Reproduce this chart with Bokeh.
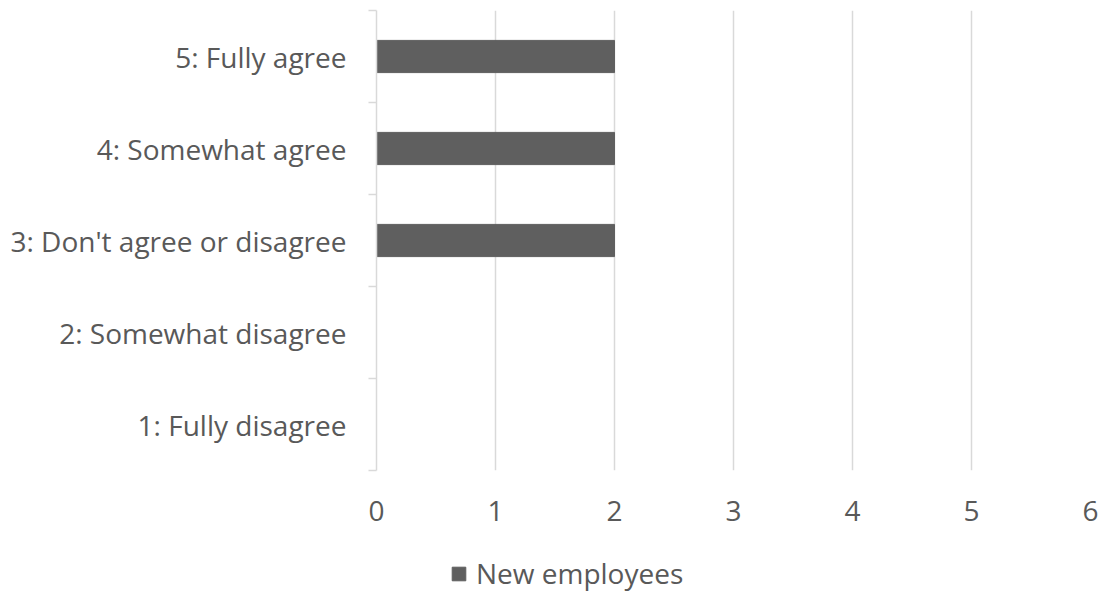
from bokeh.plotting import figure
from bokeh.layouts import column
from bokeh.models import FixedTicker, Legend, LegendItem, ColumnDataSource, Range1d
from bokeh.embed import file_html
from bokeh.resources import INLINE

categories = ["1: Fully disagree", "2: Somewhat disagree", "3: Don't agree or disagree",
              "4: Somewhat agree", "5: Fully agree"]
values = [0, 0, 2, 2, 2]
x_ticks = [0, 1, 2, 3, 4, 5, 6]
series_name = "New employees"

positions = list(range(1, len(categories) + 1))
src = ColumnDataSource(dict(y=positions, v=values))

FONT = "Open Sans"
TXT = "#595959"
FS = "28px"
BAR = "#5f5f5f"

p = figure(frame_width=714, frame_height=460, output_backend="svg", toolbar_location=None,
           x_range=Range1d(0, 6), y_range=Range1d(0.5, 5.5),
           min_border_left=376, min_border_right=12, min_border_top=10, min_border_bottom=70)
p.outline_line_color = None

r = p.hbar(y="y", right="v", left=0, height=0.35, source=src, color=BAR)

p.xaxis.ticker = FixedTicker(ticks=x_ticks)
p.xaxis.axis_line_color = None
p.xaxis.major_tick_line_color = None
p.xaxis.minor_tick_line_color = None
p.xaxis.major_label_text_font = FONT
p.xaxis.major_label_text_font_size = FS
p.xaxis.major_label_text_color = TXT
p.xaxis.major_label_standoff = 24

p.yaxis.ticker = FixedTicker(ticks=positions, minor_ticks=[v - 0.5 for v in positions] + [positions[-1] + 0.5])
p.yaxis.major_label_overrides = {pos: c for pos, c in zip(positions, categories)}
p.yaxis.axis_line_color = "#d9d9d9"
p.yaxis.axis_line_width = 1.5
p.yaxis.major_tick_line_color = None
p.yaxis.minor_tick_line_color = "#d9d9d9"
p.yaxis.minor_tick_line_width = 1.5
p.yaxis.minor_tick_out = 8
p.yaxis.minor_tick_in = 0
p.yaxis.major_label_text_font = FONT
p.yaxis.major_label_text_font_size = FS
p.yaxis.major_label_text_color = TXT
p.yaxis.major_label_standoff = 22

p.xgrid.grid_line_color = "#d9d9d9"
p.xgrid.grid_line_width = 1.5
p.ygrid.grid_line_color = None

# legend strip below the chart (frames are aligned with the chart above)
p2 = figure(width=1102, height=52, output_backend="svg", toolbar_location=None,
            x_axis_location=None, y_axis_location=None,
            x_range=Range1d(100, 101), y_range=Range1d(100, 101), min_border=0)
p2.outline_line_color = None
p2.grid.visible = False
r2 = p2.hbar(y="y", right="v", left=0, height=0.35, source=src, color=BAR)

legend = Legend(items=[LegendItem(label=series_name, renderers=[r2], index=2)],
                location=(74, 0), orientation="horizontal",
                label_text_font=FONT, label_text_font_size=FS, label_text_color=TXT,
                glyph_width=17, glyph_height=17, border_line_color=None,
                background_fill_alpha=0, padding=0, margin=0, label_standoff=9)
p2.add_layout(legend, "center")

layout = column(p, p2, spacing=0)
open("out.html", "w").write(file_html(layout, INLINE))
